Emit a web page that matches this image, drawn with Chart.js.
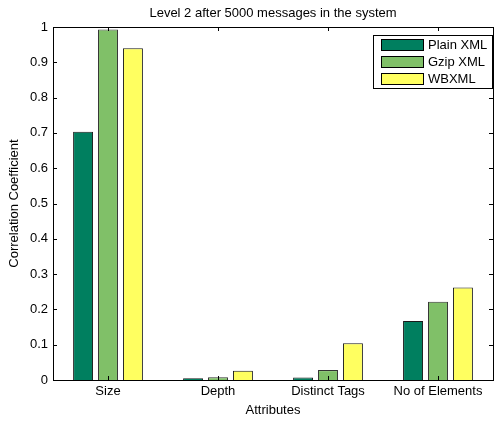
<!DOCTYPE html>
<html>
<head>
<meta charset="utf-8">
<script src="https://cdn.jsdelivr.net/npm/chart.js@4"></script>
<style>
  html, body { margin: 0; padding: 0; background: #fff; }
  #wrap { width: 496px; height: 421px; }
</style>
</head>
<body>
<div id="wrap"><canvas id="grafico"></canvas></div>
<script>
// Datos del gráfico
const categorias = ['Size', 'Depth', 'Distinct Tags', 'No of Elements'];
const plainXml = [0.703, 0.005, 0.007, 0.167];
const gzipXml = [0.993, 0.008, 0.028, 0.222];
const wbXml = [0.940, 0.026, 0.104, 0.262];
const ticksY = [0, 0.1, 0.2, 0.3, 0.4, 0.5, 0.6, 0.7, 0.8, 0.9, 1];

const fuente = "'Liberation Sans', Arial, sans-serif";
const tam = 13;

// Caja, marcas interiores, título y leyenda al estilo MATLAB
const estiloMatlab = {
    id: 'estiloMatlab',
    afterDraw(chart) {
        const ctx = chart.ctx;
        const a = chart.chartArea;
        const x = chart.scales.x, y = chart.scales.y;
        ctx.save();
        ctx.strokeStyle = '#000';
        ctx.lineWidth = 1;
        ctx.strokeRect(Math.round(a.left) + 0.5, Math.round(a.top) + 0.5,
                       Math.round(a.right - a.left), Math.round(a.bottom - a.top));
        ctx.beginPath();
        ticksY.forEach(v => {
            const py = Math.round(y.getPixelForValue(v)) + 0.5;
            ctx.moveTo(a.left, py); ctx.lineTo(a.left + 4, py);
            ctx.moveTo(a.right, py); ctx.lineTo(a.right - 4, py);
        });
        categorias.forEach((c, i) => {
            const px = Math.round(x.getPixelForValue(i)) + 0.5;
            ctx.moveTo(px, a.bottom); ctx.lineTo(px, a.bottom - 4);
            ctx.moveTo(px, a.top); ctx.lineTo(px, a.top + 4);
        });
        ctx.stroke();

        // Título
        ctx.fillStyle = '#000';
        ctx.font = tam + 'px ' + fuente;
        ctx.textAlign = 'center';
        ctx.textBaseline = 'middle';
        ctx.fillText('Level 2 after 5000 messages in the system', (a.left + a.right) / 2, 13);

        // Leyenda
        const lx = 373, ly = 35, lw = 119, lh = 53;
        ctx.fillStyle = '#fff';
        ctx.fillRect(lx, ly, lw, lh);
        ctx.strokeRect(lx + 0.5, ly + 0.5, lw, lh);
        ctx.textAlign = 'left';
        chart.data.datasets.forEach((ds, i) => {
            const sy = ly + 4 + i * 17;
            ctx.fillStyle = ds.backgroundColor;
            ctx.fillRect(lx + 8, sy, 43, 12);
            ctx.strokeStyle = '#000';
            ctx.strokeRect(lx + 8.5, sy + 0.5, 42, 11);
            ctx.fillStyle = '#000';
            ctx.fillText(ds.label, lx + 55, sy + 6.5);
        });
        ctx.restore();
    }
};

const ctx = document.getElementById('grafico');
new Chart(ctx, {
    type: 'bar',
    data: {
        labels: categorias,
        datasets: [
            { label: 'Plain XML', data: plainXml, backgroundColor: '#007f5f', borderColor: '#1a1a1a', borderWidth: 1 },
            { label: 'Gzip XML', data: gzipXml, backgroundColor: '#80c068', borderColor: '#333333', borderWidth: 1 },
            { label: 'WBXML', data: wbXml, backgroundColor: '#ffff60', borderColor: '#1a1a1a', borderWidth: 1 }
        ]
    },
    options: {
        responsive: true,
        maintainAspectRatio: false,
        animation: false,
        layout: { padding: { top: 27, right: 3, left: 0, bottom: 0 } },
        categoryPercentage: 0.68,
        barPercentage: 0.8,
        plugins: {
            legend: { display: false },
            title: { display: false },
            tooltip: { enabled: false }
        },
        scales: {
            x: {
                grid: { display: false, drawTicks: false },
                border: { display: false },
                ticks: { color: '#000', font: { family: fuente, size: tam }, padding: 4, maxRotation: 0, autoSkip: false },
                title: { display: true, text: 'Attributes', color: '#000', font: { family: fuente, size: tam }, padding: { top: 0, bottom: 3 } },
                afterFit: s => { s.height = 41; }
            },
            y: {
                min: 0,
                max: 1,
                afterBuildTicks: s => { s.ticks = ticksY.map(v => ({ value: v })); },
                grid: { display: false, drawTicks: false },
                border: { display: false },
                ticks: {
                    color: '#000',
                    font: { family: fuente, size: tam },
                    padding: 5,
                    callback: v => String(Math.round(v * 10) / 10)
                },
                title: { display: true, text: 'Correlation Coefficient', color: '#000', font: { family: fuente, size: tam }, padding: { top: 7, bottom: 0 } },
                afterFit: s => { s.width = 53; }
            }
        }
    },
    plugins: [estiloMatlab]
});
</script>
</body>
</html>
